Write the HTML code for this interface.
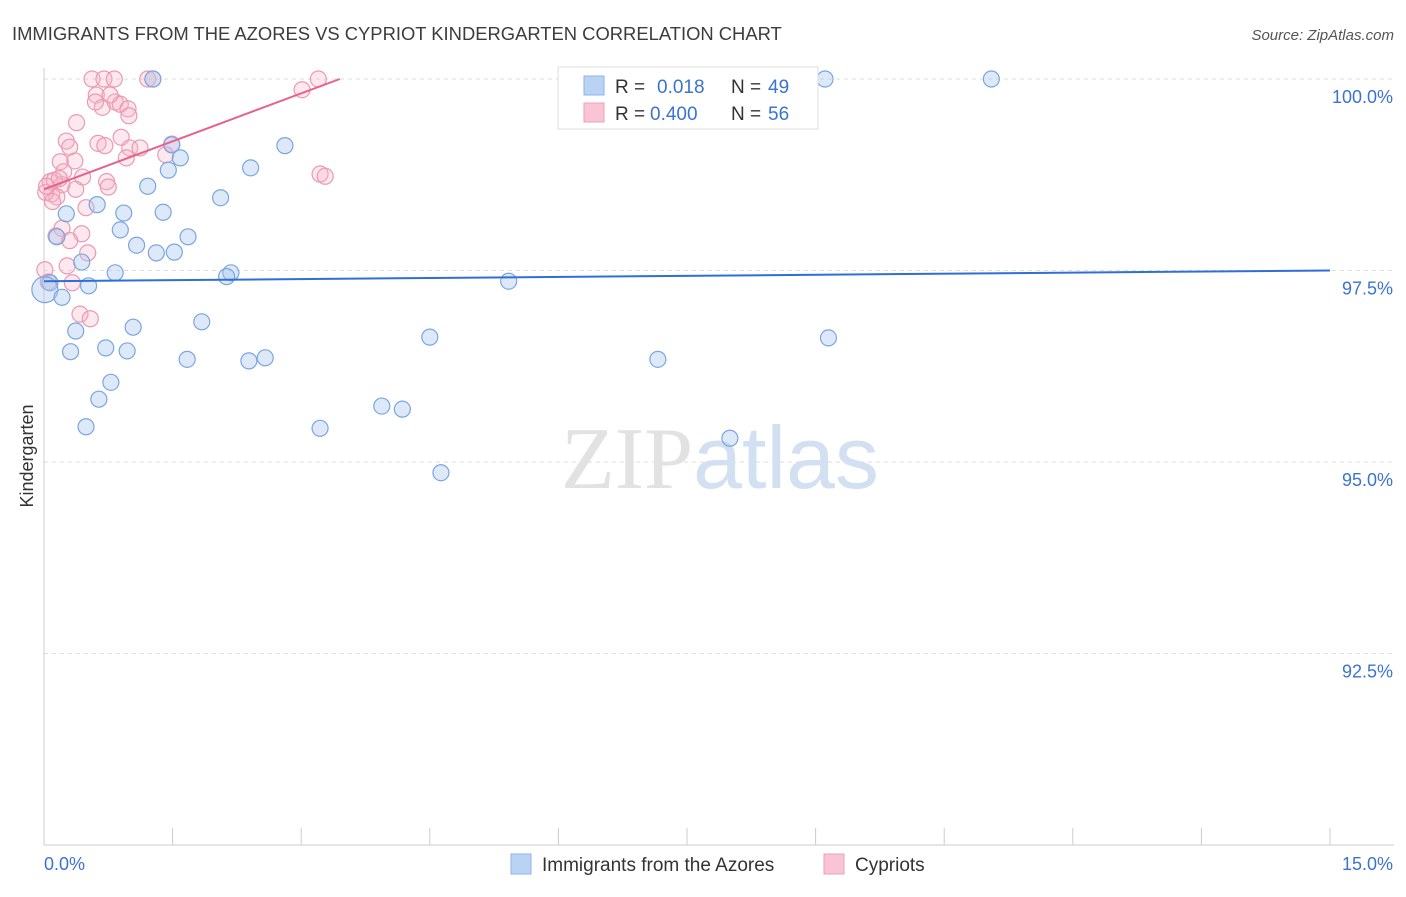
<!DOCTYPE html>
<html><head><meta charset="utf-8">
<style>
body{margin:0;background:#fff;font-family:"Liberation Sans",sans-serif;}
svg text{font-family:"Liberation Sans",sans-serif;}
</style></head>
<body>
<svg id="chart" width="1406" height="892" xmlns="http://www.w3.org/2000/svg">
<text x="12" y="40" font-size="18.4" fill="#3c3c3c">IMMIGRANTS FROM THE AZORES VS CYPRIOT KINDERGARTEN CORRELATION CHART</text>
<text x="1394" y="40" font-size="15" fill="#555" font-style="italic" text-anchor="end">Source: ZipAtlas.com</text>
<g id="grid"></g>
<g id="axes"></g>
<text x="720" y="488" font-size="88" text-anchor="middle" fill="#e2e2e2"><tspan font-family="Liberation Serif">ZIP</tspan><tspan fill="#d3e0f2" font-family="Liberation Sans">atlas</tspan></text>
<g id="pts"></g>
<g id="lines"></g>
<text transform="translate(33,456) rotate(-90)" font-size="18" fill="#333" text-anchor="middle">Kindergarten</text>
<g>
<rect x="558" y="67" width="260" height="62" fill="#fff" stroke="#ddd"/>
<rect x="584" y="76" width="20" height="19" fill="#b9d3f5" stroke="#8fb4e6"/>
<rect x="584" y="103" width="20" height="19" fill="#f9c4d4" stroke="#eda2ba"/>
<text x="615" y="93" font-size="19" fill="#333">R =</text>
<text x="657" y="93" font-size="19" fill="#3b73d1">0.018</text>
<text x="731" y="93" font-size="19" fill="#333">N =</text>
<text x="768" y="93" font-size="19" fill="#3b73d1">49</text>
<text x="615" y="120" font-size="19" fill="#333">R =</text>
<text x="650" y="120" font-size="19" fill="#3b73d1">0.400</text>
<text x="731" y="120" font-size="19" fill="#333">N =</text>
<text x="768" y="120" font-size="19" fill="#3b73d1">56</text>
</g>
<g>
<rect x="511" y="854" width="20" height="20" fill="#b9d3f5" stroke="#8fb4e6"/>
<text x="542" y="871" font-size="19" fill="#333">Immigrants from the Azores</text>
<rect x="824" y="854" width="20" height="20" fill="#f9c4d4" stroke="#eda2ba"/>
<text x="855" y="871" font-size="19" fill="#333">Cypriots</text>
</g>
</svg>
<script>
const yTicks=[100.0,97.5,95.0,92.5];
const xTickLabels=["0.0%","15.0%"];
const blueX=[1.27,9.11,11.05,2.81,1.49,1.59,1.45,2.41,1.21,2.06,0.62,0.26,0.93,1.39,0.89,1.68,0.15,1.08,1.31,1.52,0.44,0.83,2.18,2.13,5.42,0.52,0.07,0.01,0.21,0.37,1.04,1.84,4.50,9.15,0.31,0.72,0.97,1.67,2.39,2.58,7.16,0.78,0.64,3.94,4.18,0.49,3.22,8.00,4.63];
const blueY=[100,100,100,99.13,99.14,98.97,98.81,98.84,98.60,98.45,98.36,98.24,98.25,98.26,98.03,97.94,97.94,97.83,97.73,97.74,97.61,97.47,97.47,97.42,97.36,97.30,97.34,97.25,97.15,96.71,96.76,96.83,96.63,96.62,96.44,96.49,96.45,96.34,96.32,96.36,96.34,96.04,95.82,95.73,95.69,95.46,95.44,95.31,94.86];
const pinkX=[0.56,0.70,0.82,1.21,1.27,3.20,3.01,0.61,0.83,0.89,0.68,0.98,0.99,0.38,0.26,0.90,0.63,0.30,1.00,0.71,1.49,1.42,0.96,0.19,0.36,0.23,0.45,3.22,3.28,0.73,0.07,0.21,0.75,0.37,0.09,0.15,0.02,0.49,0.21,0.44,0.14,0.30,0.51,0.27,0.01,0.05,0.33,0.42,0.54,0.12,1.12,0.77,0.10,0.03,0.18,0.60];
const pinkY=[100,100,100,100,100,100,99.86,99.79,99.70,99.67,99.63,99.61,99.52,99.43,99.19,99.24,99.16,99.11,99.10,99.13,99.15,99.01,98.97,98.92,98.93,98.79,98.72,98.76,98.73,98.66,98.66,98.62,98.59,98.56,98.50,98.46,98.52,98.32,98.05,97.98,97.95,97.89,97.73,97.56,97.51,97.35,97.34,96.93,96.87,98.68,99.10,99.79,98.40,98.60,98.70,99.70];
const blueTrend=[97.36,97.50];
const pinkTrend=[98.56,100];
const pinkTrendX=[0,3.45];
const NS="http://www.w3.org/2000/svg";
const X=v=>44+v*(1286/15), Y=v=>79+(100-v)*76.6;
function mk(t,a,p){const e=document.createElementNS(NS,t);for(const k in a)e.setAttribute(k,a[k]);p.appendChild(e);return e;}
const grid=document.getElementById('grid'),axes=document.getElementById('axes');
yTicks.forEach(v=>{
 const l=mk('line',{x1:44,x2:1394,y1:Y(v),y2:Y(v),stroke:'#ddd','stroke-dasharray':'4,4'},grid);
 
 
 const t=mk('text',{x:1393,y:Y(v)+24,'font-size':18,fill:'#3b73d1','text-anchor':'end'},axes);
 
 
 t.textContent=v.toFixed(1)+'%';
});
mk('line',{x1:44,x2:44,y1:68,y2:845,stroke:'#ccc'},axes);
mk('line',{x1:44,x2:1394,y1:845,y2:845,stroke:'#ccc'},axes);
for(let i=0;i<=10;i++){const tk=mk('line',{x1:X(i*1.5),x2:X(i*1.5),y1:828,y2:845,stroke:'#ccc'},axes);
 
 }
const t0=mk('text',{x:44,y:870,'font-size':18,fill:'#3b73d1'},axes);t0.textContent=xTickLabels[0];


const t1=mk('text',{x:1393,y:870,'font-size':18,fill:'#3b73d1','text-anchor':'end'},axes);t1.textContent=xTickLabels[1];


const pts=document.getElementById('pts');
pinkX.forEach((x,i)=>{const c=mk('circle',{cx:X(x),cy:Y(pinkY[i]),r:8,fill:'rgba(249,180,200,0.3)',stroke:'#ea9ab4','stroke-width':1.2},pts);
 
 });
blueX.forEach((x,i)=>{const c=mk('circle',{cx:X(x),cy:Y(blueY[i]),r:(i==27?13:8),fill:'rgba(170,200,240,0.4)',stroke:'#7aa6e0','stroke-width':1.2},pts);
 
 });
const lines=document.getElementById('lines');
const bl=mk('line',{x1:X(0),y1:Y(blueTrend[0]),x2:X(15),y2:Y(blueTrend[1]),stroke:'#2f6fd6','stroke-width':2},lines);


const pl=mk('line',{x1:X(pinkTrendX[0]),y1:Y(pinkTrend[0]),x2:X(pinkTrendX[1]),y2:Y(pinkTrend[1]),stroke:'#e8608c','stroke-width':2},lines);


</script>
</body></html>
